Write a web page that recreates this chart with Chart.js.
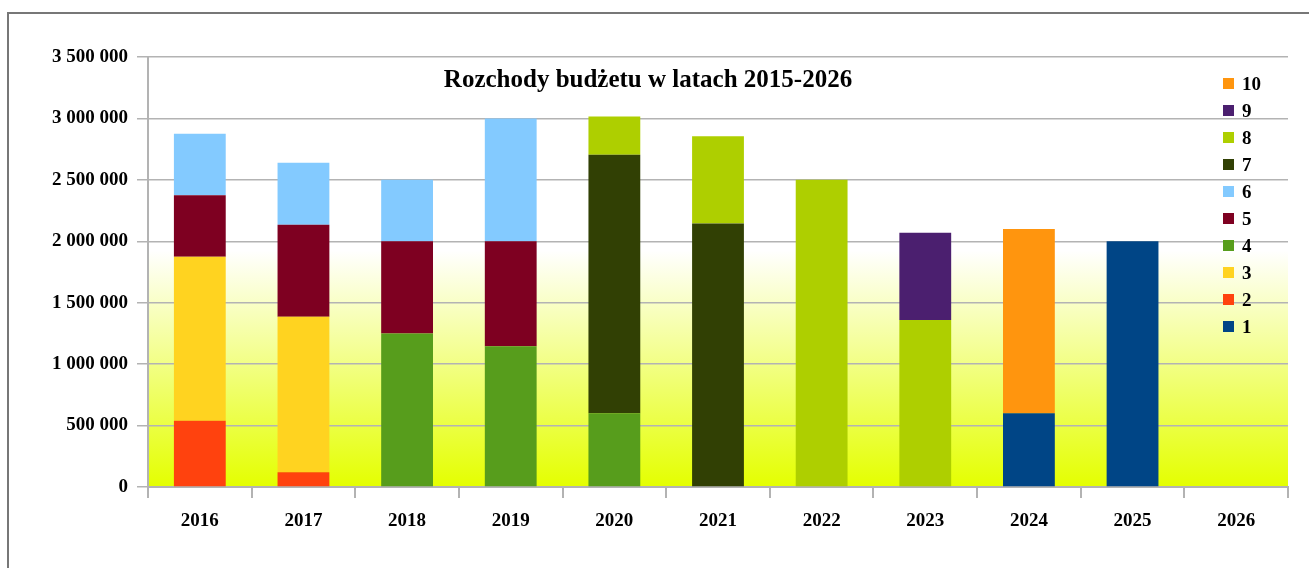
<!DOCTYPE html>
<html>
<head>
<meta charset="utf-8">
<script src="https://cdn.jsdelivr.net/npm/chart.js@4.4.1/dist/chart.umd.min.js"></script>
<style>
  html, body { margin: 0; padding: 0; background: #fff; overflow: hidden; }
  #frame { position: absolute; left: 7px; top: 12px; width: 1400px; height: 700px; border-left: 2px solid #777; border-top: 2px solid #777; }
  #wrap { position: absolute; left: 0; top: 0; width: 1309px; height: 568px; }
</style>
</head>
<body>
<div id="frame"></div>
<div id="wrap"><canvas id="budget-chart"></canvas></div>
<script>
const years = ['2016', '2017', '2018', '2019', '2020', '2021', '2022', '2023', '2024', '2025', '2026'];
const seriesNames = ['1', '2', '3', '4', '5', '6', '7', '8', '9', '10'];
const seriesColors = ['#004586', '#ff420e', '#ffd320', '#579d1c', '#7e0021', '#83caff', '#314004', '#aecf00', '#4b1f6f', '#ff950e'];
const s1 = [0, 0, 0, 0, 0, 0, 0, 0, 600000, 2000000, 0];
const s2 = [540000, 120000, 0, 0, 0, 0, 0, 0, 0, 0, 0];
const s3 = [1335000, 1265000, 0, 0, 0, 0, 0, 0, 0, 0, 0];
const s4 = [0, 0, 1250000, 1145000, 600000, 0, 0, 0, 0, 0, 0];
const s5 = [500000, 750000, 750000, 855000, 0, 0, 0, 0, 0, 0, 0];
const s6 = [500000, 505000, 500000, 1000000, 0, 0, 0, 0, 0, 0, 0];
const s7 = [0, 0, 0, 0, 2105000, 2145000, 0, 0, 0, 0, 0];
const s8 = [0, 0, 0, 0, 310000, 710000, 2500000, 1360000, 0, 0, 0];
const s9 = [0, 0, 0, 0, 0, 0, 0, 710000, 0, 0, 0];
const s10 = [0, 0, 0, 0, 0, 0, 0, 0, 1500000, 0, 0];
const yTicks = [0, 500000, 1000000, 1500000, 2000000, 2500000, 3000000, 3500000];
const title = 'Rozchody budżetu w latach 2015-2026';

const allSeries = [s1, s2, s3, s4, s5, s6, s7, s8, s9, s10];
const fontFamily = "'Liberation Serif', 'Times New Roman', serif";

function formatNumber(v) {
    return String(v).replace(/\B(?=(\d{3})+(?!\d))/g, ' ');
}

// gradient behind the plot
const plotBackground = {
    id: 'plotBackground',
    beforeDraw(chart) {
        const { ctx, chartArea } = chart;
        const g = ctx.createLinearGradient(0, chartArea.top, 0, chartArea.bottom);
        g.addColorStop(0, '#ffffff');
        g.addColorStop(0.45, '#ffffff');
        g.addColorStop(1, '#e4ff00');
        ctx.save();
        ctx.fillStyle = g;
        ctx.fillRect(chartArea.left, chartArea.top, chartArea.right - chartArea.left, chartArea.bottom - chartArea.top);
        ctx.restore();
    }
};

// title and legend sit inside the plot area
const overlay = {
    id: 'overlay',
    afterDraw(chart) {
        const ctx = chart.ctx;
        ctx.save();
        ctx.fillStyle = '#000';
        ctx.font = 'bold 25px ' + fontFamily;
        ctx.textAlign = 'center';
        ctx.textBaseline = 'alphabetic';
        ctx.fillText(title, 648, 87);

        ctx.font = 'bold 19px ' + fontFamily;
        ctx.textAlign = 'left';
        ctx.textBaseline = 'middle';
        const sets = chart.data.datasets;
        for (let i = sets.length - 1; i >= 0; i--) {
            const y = 84 + (sets.length - 1 - i) * 27;
            ctx.fillStyle = sets[i].backgroundColor;
            ctx.fillRect(1223, y - 6, 11, 11);
            ctx.fillStyle = '#000';
            ctx.fillText(sets[i].label, 1242, y + 1);
        }
        ctx.restore();
    }
};

const ctx = document.getElementById('budget-chart').getContext('2d');
new Chart(ctx, {
    type: 'bar',
    data: {
        labels: years,
        datasets: allSeries.map((values, i) => ({
            label: seriesNames[i],
            data: values,
            backgroundColor: seriesColors[i],
            borderWidth: 0,
            barPercentage: 0.5,
            categoryPercentage: 1
        }))
    },
    options: {
        responsive: true,
        maintainAspectRatio: false,
        animation: false,
        layout: {
            padding: { left: 0, top: 57, right: 21, bottom: 0 }
        },
        plugins: {
            legend: { display: false },
            title: { display: false },
            tooltip: { enabled: false }
        },
        scales: {
            x: {
                stacked: true,
                grid: {
                    drawOnChartArea: false,
                    drawTicks: true,
                    tickLength: 11,
                    color: '#b3b3b3',
                    lineWidth: 2
                },
                border: { color: '#b3b3b3', width: 2 },
                ticks: {
                    color: '#000',
                    padding: 12,
                    font: { family: fontFamily, size: 19, weight: 'bold' }
                },
                afterFit(scale) { scale.height = 81; }
            },
            y: {
                stacked: true,
                min: 0,
                max: 3500000,
                afterBuildTicks(scale) {
                    scale.ticks = yTicks.map(v => ({ value: v }));
                },
                grid: {
                    color: '#b3b3b3',
                    lineWidth: 1.5,
                    tickLength: 11
                },
                border: { color: '#b3b3b3', width: 2 },
                ticks: {
                    color: '#000',
                    padding: 9,
                    font: { family: fontFamily, size: 19, weight: 'bold' },
                    callback: v => formatNumber(v)
                },
                afterFit(scale) { scale.width = 148; }
            }
        }
    },
    plugins: [plotBackground, overlay]
});
</script>
</body>
</html>
